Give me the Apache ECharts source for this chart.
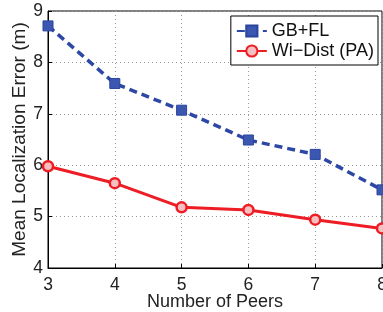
<!DOCTYPE html>
<html>
<head>
<meta charset="utf-8">
<script src="https://cdn.jsdelivr.net/npm/echarts@6/dist/echarts.min.js"></script>
<style>
  html, body { margin: 0; padding: 0; background: #fff; }
  #chart { width: 383px; height: 312px; }
</style>
</head>
<body>
<div id="chart"></div>
<script>
// data
const peers = [3, 4, 5, 6, 7, 8];
const gbfl = [8.71, 7.59, 7.07, 6.49, 6.21, 5.52];
const wiDist = [5.98, 5.65, 5.18, 5.13, 4.94, 4.77];
const yTicks = [4, 5, 6, 7, 8, 9];

const font = 'Liberation Sans, Arial, sans-serif';

function pairs(xs, ys) {
  return xs.map(function(x, i) { return [x, ys[i]]; });
}

const chart = echarts.init(document.getElementById('chart'));

chart.setOption({
  animation: false,
  grid: {
    left: 48, right: 1, top: 11, bottom: 44,
    outerBoundsMode: 'none',
    containLabel: false,
    show: true, borderColor: '#000', borderWidth: 1
  },
  legend: {
    right: 5, top: 16,
    orient: 'vertical',
    backgroundColor: '#fff',
    borderColor: '#000',
    borderWidth: 1,
    padding: [6, 4, 5, 5],
    itemGap: 2,
    itemWidth: 30,
    itemHeight: 14,
    textStyle: { fontFamily: font, fontSize: 18, color: '#111' },
    data: ['GB+FL', 'Wi\u2212Dist (PA)']
  },
  xAxis: {
    type: 'value',
    min: 3, max: 8, interval: 1,
    name: 'Number of Peers',
    nameLocation: 'middle',
    nameGap: 25,
    nameMoveOverlap: false,
    nameTextStyle: { fontFamily: font, fontSize: 18, color: '#222' },
    axisLine: { lineStyle: { color: '#000', width: 1 } },
    axisTick: { inside: true, length: 4, lineStyle: { color: '#000' } },
    axisLabel: { fontFamily: font, fontSize: 17.5, color: '#222', margin: 8 },
    splitLine: { show: true, lineStyle: { color: '#999', type: [1, 3], width: 1 } }
  },
  yAxis: {
    type: 'value',
    min: yTicks[0], max: yTicks[yTicks.length - 1], interval: 1,
    name: 'Mean Localization Error (m)',
    nameLocation: 'middle',
    nameGap: 19,
    nameMoveOverlap: false,
    nameTextStyle: { fontFamily: font, fontSize: 19, color: '#222' },
    axisLine: { lineStyle: { color: '#000', width: 1 } },
    axisTick: { inside: true, length: 4, lineStyle: { color: '#000' } },
    axisLabel: { fontFamily: font, fontSize: 17.5, color: '#222', margin: 5 },
    splitLine: { show: true, lineStyle: { color: '#999', type: [1, 3], width: 1 } }
  },
  series: [
    {
      name: 'GB+FL',
      type: 'line',
      data: pairs(peers, gbfl),
      symbol: 'rect',
      symbolSize: 10,
      itemStyle: { color: '#3b57b0', borderColor: '#2a45a0', borderWidth: 1 },
      lineStyle: { color: '#2d47a5', width: 3.5, type: [8, 5] }
    },
    {
      name: 'Wi\u2212Dist (PA)',
      type: 'line',
      data: pairs(peers, wiDist),
      symbol: 'circle',
      symbolSize: 10,
      itemStyle: { color: '#f6c0c0', borderColor: '#ee1c24', borderWidth: 2.5 },
      lineStyle: { color: '#ee1c24', width: 3 }
    }
  ]
});
</script>
</body>
</html>
